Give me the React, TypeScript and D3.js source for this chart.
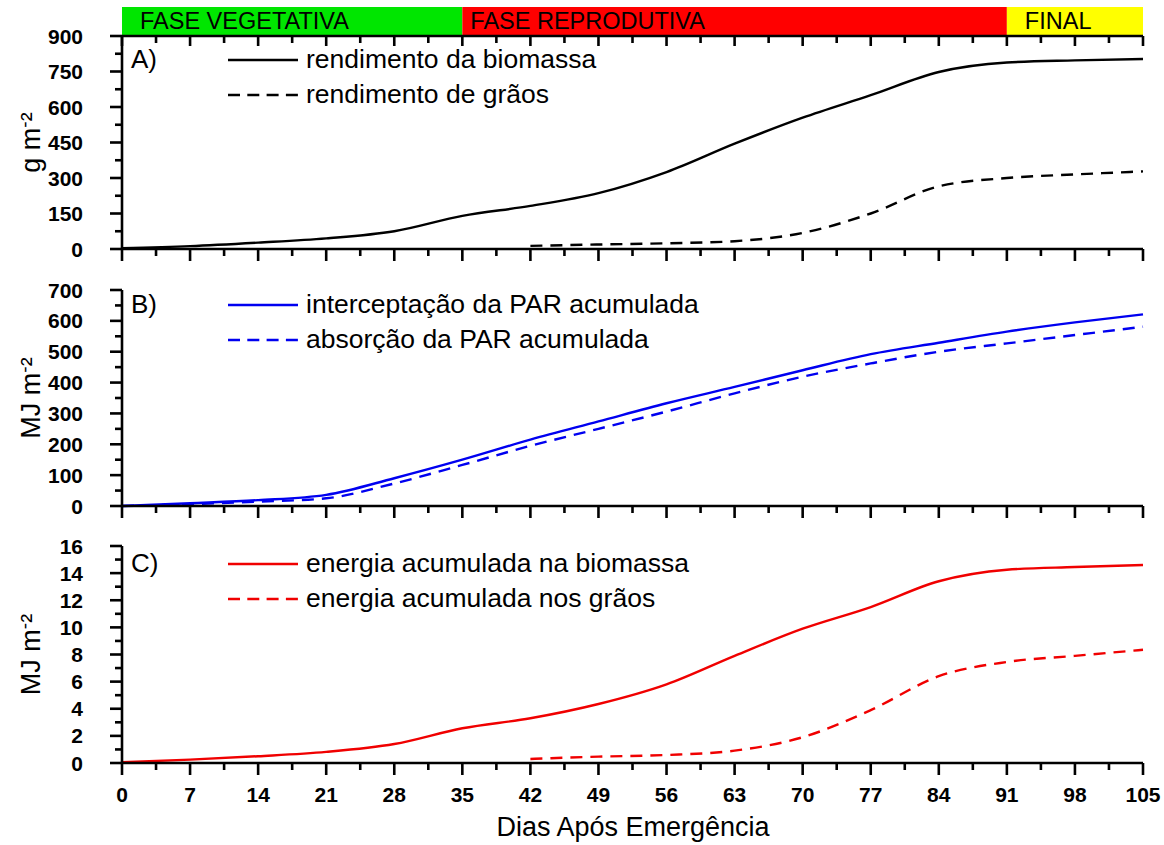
import * as d3 from 'd3';
import React from 'react';

// dias apos emergencia
const days = [0, 7, 14, 21, 28, 35, 42, 49, 56, 63, 70, 77, 84, 91, 98, 105];
const grainDays = [42, 49, 56, 63, 70, 77, 84, 91, 98, 105];

// A) g m-2
const biomassYield = [3, 12, 27, 45, 75, 140, 182, 236, 325, 445, 555, 650, 748, 788, 797, 803];
const grainYield = [13, 19, 24, 33, 68, 150, 265, 300, 315, 328];

// B) MJ m-2
const parIntercepted = [0, 9, 19, 36, 90, 150, 215, 274, 333, 386, 440, 492, 529, 565, 595, 621];
const parAbsorbed = [0, 6, 14, 25, 73, 133, 195, 250, 306, 365, 419, 462, 500, 527, 554, 581];

// C) MJ m-2
const energyBiomass = [0.05, 0.25, 0.5, 0.82, 1.4, 2.56, 3.3, 4.35, 5.8, 7.9, 9.9, 11.5, 13.4, 14.25, 14.45, 14.6];
const energyGrain = [0.3, 0.47, 0.59, 0.91, 1.9, 3.9, 6.4, 7.45, 7.9, 8.35];

const xTicks = [0, 7, 14, 21, 28, 35, 42, 49, 56, 63, 70, 77, 84, 91, 98, 105];
const yTicksA = [0, 150, 300, 450, 600, 750, 900];
const yTicksB = [0, 100, 200, 300, 400, 500, 600, 700];
const yTicksC = [0, 2, 4, 6, 8, 10, 12, 14, 16];

const phaseNames = ['FASE VEGETATIVA', 'FASE REPRODUTIVA', 'FINAL'];
const phaseStart = [0, 35, 91];
const phaseEnd = [35, 91, 105];
const phaseColors = ['#00e600', '#ff0000', '#ffff00'];

const FONT = 'Liberation Sans, Arial, Helvetica, sans-serif';
const AXW = 2.6;
const LW = 2.4;
const DASH = '12,8';

const x = d3.scaleLinear().domain([0, 105]).range([122, 1143]);

const mids = (t: number[]) => t.slice(1).map((v, i) => (v + t[i]) / 2);

const panels = [
  {
    tag: 'A)', title: 'g m', ticks: yTicksA, range: [249, 36], color: '#000000',
    solid: { xs: days, ys: biomassYield, label: 'rendimento da biomassa' },
    dashed: { xs: grainDays, ys: grainYield, label: 'rendimento de grãos' },
    legendY: 60, top: true,
  },
  {
    tag: 'B)', title: 'MJ m', ticks: yTicksB, range: [506, 290], color: '#0000f0',
    solid: { xs: days, ys: parIntercepted, label: 'interceptação da PAR acumulada' },
    dashed: { xs: days, ys: parAbsorbed, label: 'absorção da PAR acumulada' },
    legendY: 305, top: false,
  },
  {
    tag: 'C)', title: 'MJ m', ticks: yTicksC, range: [763, 546], color: '#f00000',
    solid: { xs: days, ys: energyBiomass, label: 'energia acumulada na biomassa' },
    dashed: { xs: grainDays, ys: energyGrain, label: 'energia acumulada nos grãos' },
    legendY: 564, top: false,
  },
];

const Panel = ({ p, last }: { p: any; last: boolean }) => {
  const t = p.ticks;
  const y = d3.scaleLinear().domain([t[0], t[t.length - 1]]).range(p.range);
  const y0 = y(0);
  const yTop = y(t[t.length - 1]);
  const line = (xs: number[], ys: number[]) =>
    d3.line<number>().x((_, i) => x(xs[i])).y(d => y(d)).curve(d3.curveMonotoneX)(ys) || '';
  const cy = (y0 + yTop) / 2;
  return (
    <g>
      {/* curves */}
      <path d={line(p.solid.xs, p.solid.ys)} fill="none" stroke={p.color} strokeWidth={LW} />
      <path d={line(p.dashed.xs, p.dashed.ys)} fill="none" stroke={p.color} strokeWidth={LW} strokeDasharray={DASH} />

      {/* left axis */}
      <line x1={x(0)} x2={x(0)} y1={yTop} y2={y0} stroke="#000" strokeWidth={AXW} />
      {t.map((v: number) => (
        <g key={'yt' + v}>
          <line x1={x(0) - 12} x2={x(0)} y1={y(v)} y2={y(v)} stroke="#000" strokeWidth={AXW} />
          <text x={83} y={y(v) + 7.5} textAnchor="end" fontSize={21} fontWeight="bold" fontFamily={FONT}>{v}</text>
        </g>
      ))}
      {mids(t).map((v) => (
        <line key={'ym' + v} x1={x(0) - 7} x2={x(0)} y1={y(v)} y2={y(v)} stroke="#000" strokeWidth={AXW} />
      ))}

      {/* bottom axis */}
      <line x1={x(0)} x2={x(105)} y1={y0} y2={y0} stroke="#000" strokeWidth={AXW} />
      {xTicks.map((v) => (
        <line key={'xt' + v} x1={x(v)} x2={x(v)} y1={y0} y2={y0 + 12} stroke="#000" strokeWidth={AXW} />
      ))}
      {mids(xTicks).map((v) => (
        <line key={'xm' + v} x1={x(v)} x2={x(v)} y1={y0} y2={y0 + 7} stroke="#000" strokeWidth={AXW} />
      ))}
      {last && xTicks.map((v) => (
        <text key={'xl' + v} x={x(v)} y={y0 + 39} textAnchor="middle" fontSize={21} fontWeight="bold" fontFamily={FONT}>{v}</text>
      ))}

      {/* top axis (panel A only) */}
      {p.top && (
        <g>
          <line x1={x(0)} x2={x(105)} y1={yTop} y2={yTop} stroke="#000" strokeWidth={AXW} />
          {xTicks.map((v) => (
            <line key={'tt' + v} x1={x(v)} x2={x(v)} y1={yTop} y2={yTop + 10} stroke="#000" strokeWidth={AXW} />
          ))}
          {mids(xTicks).map((v) => (
            <line key={'tm' + v} x1={x(v)} x2={x(v)} y1={yTop} y2={yTop + 7} stroke="#000" strokeWidth={AXW} />
          ))}
        </g>
      )}

      {/* y title */}
      <text transform={`translate(40,${cy}) rotate(-90)`} textAnchor="middle" fontSize={27} fontFamily={FONT}>
        {p.title}<tspan dy={-9} fontSize={19}>-</tspan><tspan dy={9}>²</tspan>
      </text>

      {/* panel tag + legend */}
      <text x={131} y={p.legendY + 8} fontSize={26} fontFamily={FONT}>{p.tag}</text>
      <line x1={228} x2={298} y1={p.legendY} y2={p.legendY} stroke={p.color} strokeWidth={LW} />
      <text x={306} y={p.legendY + 8} fontSize={26.5} fontFamily={FONT}>{p.solid.label}</text>
      <line x1={228} x2={298} y1={p.legendY + 35} y2={p.legendY + 35} stroke={p.color} strokeWidth={LW} strokeDasharray="12,7.3" />
      <text x={306} y={p.legendY + 43} fontSize={26.5} fontFamily={FONT}>{p.dashed.label}</text>
    </g>
  );
};

const App = () => {
  return (
    <svg width={1164} height={845} style={{ position: 'absolute', left: 0, top: 0, background: '#fff' }}>
      <rect width={1164} height={845} fill="#fff" />
      {phaseNames.map((n, i) => (
        <g key={n}>
          <rect x={x(phaseStart[i])} y={7} width={x(phaseEnd[i]) - x(phaseStart[i])} height={29} fill={phaseColors[i]} />
          <text x={x(phaseStart[i]) + (i === 1 ? 8 : 18)} y={29} fontSize={23.5} fontFamily={FONT}>{n}</text>
        </g>
      ))}
      {panels.map((p, i) => (
        <Panel key={p.tag} p={p} last={i === panels.length - 1} />
      ))}
      <text x={633} y={836} textAnchor="middle" fontSize={27} fontFamily={FONT}>Dias Após Emergência</text>
    </svg>
  );
};

export default App;
